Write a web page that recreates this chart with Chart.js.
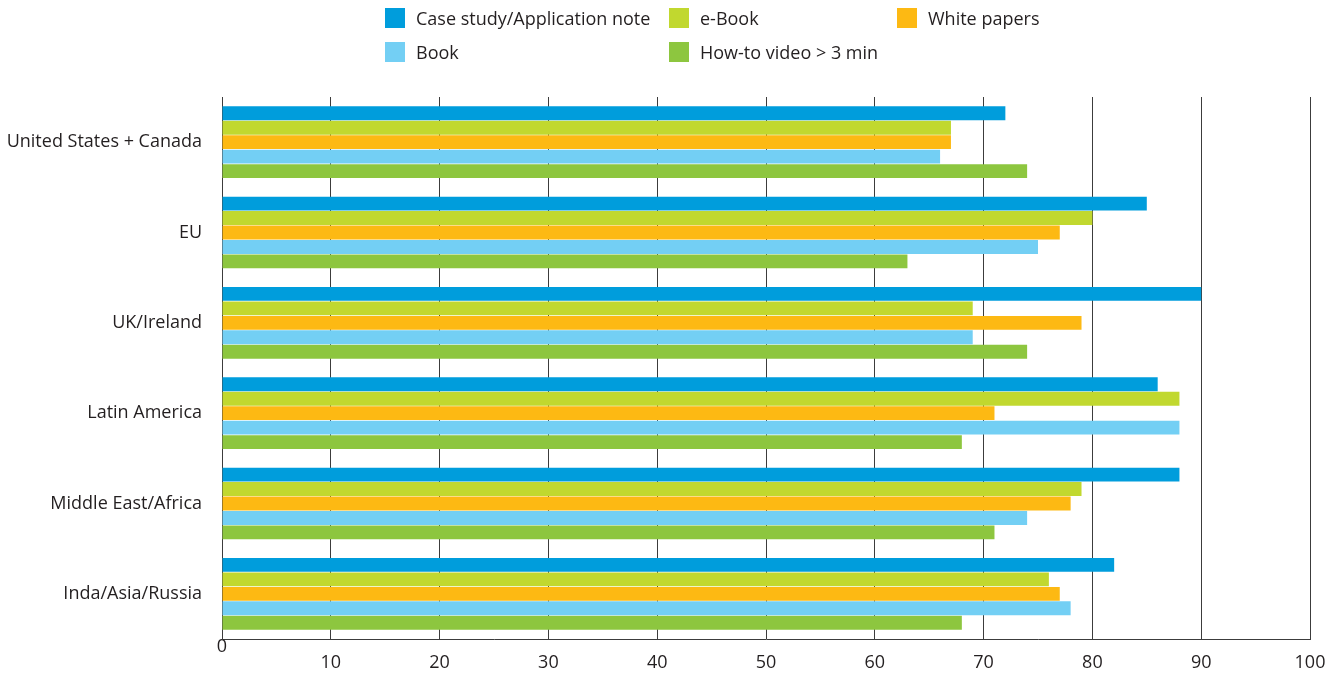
<!DOCTYPE html>
<html>
<head>
<meta charset="utf-8">
<script src="https://cdn.jsdelivr.net/npm/chart.js@4"></script>
<style>
  html, body { margin: 0; padding: 0; background: #fff; }
  #wrap { position: relative; width: 1338px; height: 675px; }
  #legend { position: absolute; left: 0; top: 0; font-family: 'Open Sans', sans-serif; font-size: 18px; color: #231f20; }
  .item { position: absolute; display: flex; align-items: center; white-space: nowrap; height: 20px; }
  .box { width: 20px; height: 20px; margin-right: 11px; flex: none; }
</style>
</head>
<body>
<div id="wrap">
  <canvas id="chart" width="1338" height="675"></canvas>
  <div id="legend"></div>
</div>
<script>
// --- Data ---
const regions = ['United States + Canada', 'EU', 'UK/Ireland', 'Latin America', 'Middle East/Africa', 'Inda/Asia/Russia'];
const caseStudy = [72, 85, 90, 86, 88, 82];
const eBook = [67, 80, 69, 88, 79, 76];
const whitePapers = [67, 77, 79, 71, 78, 77];
const book = [66, 75, 69, 88, 74, 78];
const howToVideo = [74, 63, 74, 68, 71, 68];
const xTicks = [0, 10, 20, 30, 40, 50, 60, 70, 80, 90, 100];

const seriesNames = ['Case study/Application note', 'e-Book', 'White papers', 'Book', 'How-to video > 3 min'];
const seriesColors = ['#009ddc', '#c1d82f', '#fdb913', '#73cff4', '#8dc63f'];
const seriesData = [caseStudy, eBook, whitePapers, book, howToVideo];

const textColor = '#231f20';
const gridColor = '#3c3c3c';
const fontFamily = "'Open Sans', sans-serif";

// legend slots: 3 columns, 2 rows
const legendSlots = [[385, 8], [669, 8], [897, 8], [385, 42], [669, 42]];

function buildLegend(chart) {
    const el = document.getElementById('legend');
    el.innerHTML = '';
    chart.data.datasets.forEach((ds, i) => {
        const item = document.createElement('div');
        item.className = 'item';
        item.style.left = legendSlots[i][0] + 'px';
        item.style.top = legendSlots[i][1] + 'px';
        const box = document.createElement('span');
        box.className = 'box';
        box.style.background = ds.backgroundColor;
        const label = document.createElement('span');
        label.textContent = ds.label;
        item.appendChild(box);
        item.appendChild(label);
        el.appendChild(item);
    });
}

const chart = new Chart(document.getElementById('chart'), {
    type: 'bar',
    data: {
        labels: regions,
        datasets: seriesData.map((d, i) => ({
            label: seriesNames[i],
            data: d,
            backgroundColor: seriesColors[i],
            borderWidth: 0,
            categoryPercentage: 0.8,
            barPercentage: 0.96
        }))
    },
    options: {
        indexAxis: 'y',
        responsive: false,
        animation: false,
        layout: { padding: { top: 97, right: 28, left: 0, bottom: 0 } },
        plugins: {
            legend: { display: false },
            tooltip: { enabled: false }
        },
        scales: {
            x: {
                min: 0,
                max: 100,
                afterBuildTicks: (scale) => { scale.ticks = xTicks.map(v => ({ value: v })); },
                afterFit: (scale) => { scale.height = 36; },
                grid: { color: gridColor, lineWidth: 1, drawTicks: false },
                border: { display: true, color: gridColor, width: 1 },
                ticks: {
                    color: textColor,
                    font: { family: fontFamily, size: 18, lineHeight: 0.9 },
                    padding: 0,
                    maxRotation: 0,
                    // zero sits right under the axis, the rest drop one line
                    callback: (v) => v === 0 ? '0' : ['', String(v)]
                }
            },
            y: {
                afterFit: (scale) => { scale.width = 222; },
                grid: { display: false, drawTicks: false },
                border: { display: true, color: gridColor, width: 1 },
                ticks: { color: textColor, font: { family: fontFamily, size: 18 }, padding: 20 }
            }
        }
    }
});

buildLegend(chart);
</script>
</body>
</html>
